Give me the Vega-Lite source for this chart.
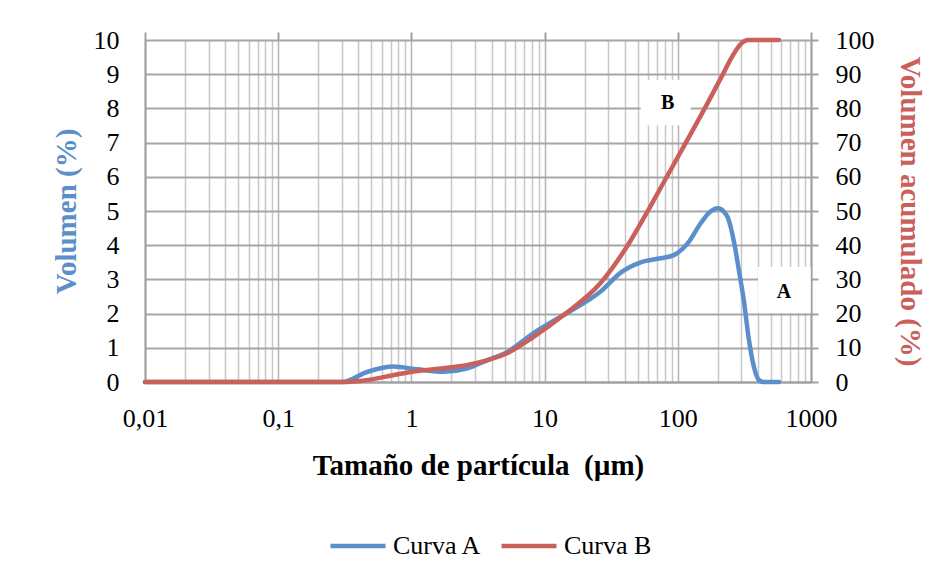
{
  "$schema": "https://vega.github.io/schema/vega-lite/v6.json",
  "width": 666,
  "height": 342,
  "autosize": {"type": "none"},
  "padding": {"left": 145, "top": 40, "right": 140, "bottom": 201},
  "background": "white",
  "config": {
    "view": {"stroke": null},
    "axis": {
      "labelFont": "Liberation Serif",
      "labelFontSize": 26,
      "labelColor": "#000000",
      "labelFlush": false,
      "titleFont": "Liberation Serif",
      "titleFontSize": 29,
      "titleFontWeight": "bold",
      "titleColor": "#000000",
      "domainColor": "#a0a0a0",
      "domainWidth": 2,
      "tickColor": "#a0a0a0",
      "tickWidth": 2
    },
    "legend": {
      "labelFont": "Liberation Serif",
      "labelFontSize": 26,
      "labelColor": "#000000"
    }
  },
  "datasets": {
    "curves": [
      {"size": 0.01, "serie": "Curva A", "v": 0},
      {"size": 0.1, "serie": "Curva A", "v": 0},
      {"size": 0.3, "serie": "Curva A", "v": 0},
      {"size": 0.47, "serie": "Curva A", "v": 0.3},
      {"size": 0.73, "serie": "Curva A", "v": 0.45},
      {"size": 1.11, "serie": "Curva A", "v": 0.37},
      {"size": 1.74, "serie": "Curva A", "v": 0.3},
      {"size": 2.64, "serie": "Curva A", "v": 0.4},
      {"size": 3.73, "serie": "Curva A", "v": 0.64},
      {"size": 5.27, "serie": "Curva A", "v": 0.88},
      {"size": 8.26, "serie": "Curva A", "v": 1.43},
      {"size": 13.9, "serie": "Curva A", "v": 1.96},
      {"size": 26.4, "serie": "Curva A", "v": 2.65},
      {"size": 37.3, "serie": "Curva A", "v": 3.2},
      {"size": 52.7, "serie": "Curva A", "v": 3.5},
      {"size": 74.5, "serie": "Curva A", "v": 3.62},
      {"size": 93.3, "serie": "Curva A", "v": 3.71},
      {"size": 119, "serie": "Curva A", "v": 4.06},
      {"size": 149, "serie": "Curva A", "v": 4.65},
      {"size": 175, "serie": "Curva A", "v": 4.98},
      {"size": 200, "serie": "Curva A", "v": 5.08},
      {"size": 222, "serie": "Curva A", "v": 4.98},
      {"size": 238, "serie": "Curva A", "v": 4.8},
      {"size": 264, "serie": "Curva A", "v": 4.1},
      {"size": 288, "serie": "Curva A", "v": 3.25},
      {"size": 314, "serie": "Curva A", "v": 2.35},
      {"size": 342, "serie": "Curva A", "v": 1.23},
      {"size": 373, "serie": "Curva A", "v": 0.44},
      {"size": 406, "serie": "Curva A", "v": 0.06},
      {"size": 440, "serie": "Curva A", "v": 0},
      {"size": 575, "serie": "Curva A", "v": 0},
      {"size": 0.01, "serie": "Curva B", "v": 0},
      {"size": 0.1, "serie": "Curva B", "v": 0},
      {"size": 0.3, "serie": "Curva B", "v": 0},
      {"size": 0.47, "serie": "Curva B", "v": 0.6},
      {"size": 0.73, "serie": "Curva B", "v": 2},
      {"size": 1.11, "serie": "Curva B", "v": 3.2},
      {"size": 1.74, "serie": "Curva B", "v": 4},
      {"size": 2.64, "serie": "Curva B", "v": 5},
      {"size": 3.73, "serie": "Curva B", "v": 6.4},
      {"size": 5.27, "serie": "Curva B", "v": 8.5},
      {"size": 8.26, "serie": "Curva B", "v": 13.2},
      {"size": 13.9, "serie": "Curva B", "v": 19.6},
      {"size": 26.4, "serie": "Curva B", "v": 29},
      {"size": 42.1, "serie": "Curva B", "v": 40},
      {"size": 59.5, "serie": "Curva B", "v": 50},
      {"size": 81.3, "serie": "Curva B", "v": 59.5},
      {"size": 115, "serie": "Curva B", "v": 70},
      {"size": 162, "serie": "Curva B", "v": 80.5},
      {"size": 218, "serie": "Curva B", "v": 90},
      {"size": 259, "serie": "Curva B", "v": 95.5},
      {"size": 300, "serie": "Curva B", "v": 99},
      {"size": 336, "serie": "Curva B", "v": 100},
      {"size": 575, "serie": "Curva B", "v": 100}
    ],
    "notes": [
      {"label": "A", "x": 627, "y": 2.63, "x1": 400, "x2": 995, "y1": 2.02, "y2": 3.36},
      {"label": "B", "x": 84.1, "y": 8.16, "x1": 52.7, "x2": 125, "y1": 7.51, "y2": 8.83}
    ]
  },
  "layer": [
    {
      "data": {"name": "notes"},
      "mark": {"type": "rect", "fill": "white", "stroke": null},
      "encoding": {
        "x": {
          "field": "x1", "type": "quantitative",
          "scale": {"type": "log", "domain": [0.01, 1000], "nice": false},
          "axis": {
            "values": [0.02,0.03,0.04,0.05,0.06,0.07,0.08,0.09,0.2,0.3,0.4,0.5,0.6,0.7,0.8,0.9,2,3,4,5,6,7,8,9,20,30,40,50,60,70,80,90,200,300,400,500,600,700,800,900],
            "grid": true, "gridColor": "#c8c8c8", "gridWidth": 1.5,
            "labels": false, "ticks": false, "domain": false, "title": null
          }
        },
        "x2": {"field": "x2"},
        "y": {
          "field": "y1", "type": "quantitative",
          "scale": {"domain": [0, 10], "nice": false},
          "axis": {
            "values": [0,1,2,3,4,5,6,7,8,9,10],
            "grid": true, "gridColor": "#a6a6a6", "gridWidth": 2,
            "ticks": false, "tickSize": 0, "labelPadding": 26,
            "title": "Volumen (%)", "titleColor": "#5b8fcb", "titlePadding": 12
          }
        },
        "y2": {"field": "y2"}
      }
    },
    {
      "data": {"name": "notes"},
      "mark": {"type": "text", "font": "Liberation Serif", "fontSize": 20, "fontWeight": "bold", "color": "#000000"},
      "encoding": {
        "x": {
          "field": "x", "type": "quantitative",
          "scale": {"type": "log", "domain": [0.01, 1000], "nice": false},
          "axis": {
            "orient": "top",
            "values": [0.01, 0.1, 1, 10, 100, 1000],
            "grid": true, "gridColor": "#b4b4b4", "gridWidth": 1.5,
            "labels": false, "ticks": true, "tickSize": 8, "domain": false, "title": null
          }
        },
        "y": {"field": "y", "type": "quantitative", "scale": {"domain": [0, 10], "nice": false}, "axis": null},
        "text": {"field": "label"}
      }
    },
    {
      "data": {"name": "curves"},
      "transform": [{"filter": "datum.serie === 'Curva A'"}],
      "mark": {"type": "line", "strokeWidth": 4.5, "interpolate": "monotone", "strokeCap": "round"},
      "encoding": {
        "x": {
          "field": "size", "type": "quantitative",
          "scale": {"type": "log", "domain": [0.01, 1000], "nice": false},
          "axis": {
            "values": [0.01, 0.1, 1, 10, 100, 1000],
            "labelExpr": "replace(format(datum.value, '~g'), '.', ',')",
            "grid": false, "ticks": false, "tickSize": 0, "labelPadding": 23,
            "title": "Tamaño de partícula \u00a0(µm)", "titlePadding": 20
          }
        },
        "y": {"field": "v", "type": "quantitative", "scale": {"domain": [0, 10], "nice": false}, "axis": null},
        "color": {
          "field": "serie", "type": "nominal",
          "scale": {"domain": ["Curva A", "Curva B"], "range": ["#5b8fcb", "#c9605a"]},
          "legend": {
            "orient": "none", "legendX": 183, "legendY": 476, "direction": "horizontal",
            "title": null, "symbolType": "stroke", "symbolSize": 3025, "symbolStrokeWidth": 4.5,
            "labelOffset": 5, "columnPadding": 10
          }
        }
      }
    },
    {
      "data": {"name": "curves"},
      "transform": [{"filter": "datum.serie === 'Curva B'"}],
      "mark": {"type": "line", "strokeWidth": 4.5, "interpolate": "monotone", "strokeCap": "round"},
      "encoding": {
        "x": {
          "field": "size", "type": "quantitative",
          "scale": {"type": "log", "domain": [0.01, 1000], "nice": false},
          "axis": null
        },
        "y": {
          "field": "v", "type": "quantitative",
          "scale": {"domain": [0, 100], "nice": false},
          "axis": {
            "orient": "right",
            "values": [0,10,20,30,40,50,60,70,80,90,100],
            "grid": false, "ticks": true, "tickSize": 7, "labelPadding": 17,
            "title": "Volumen acumulado (%)", "titleColor": "#c9605a", "titlePadding": 20
          }
        },
        "color": {"field": "serie", "type": "nominal"}
      }
    }
  ],
  "resolve": {"scale": {"y": "independent"}, "axis": {"x": "independent", "y": "independent"}}
}
